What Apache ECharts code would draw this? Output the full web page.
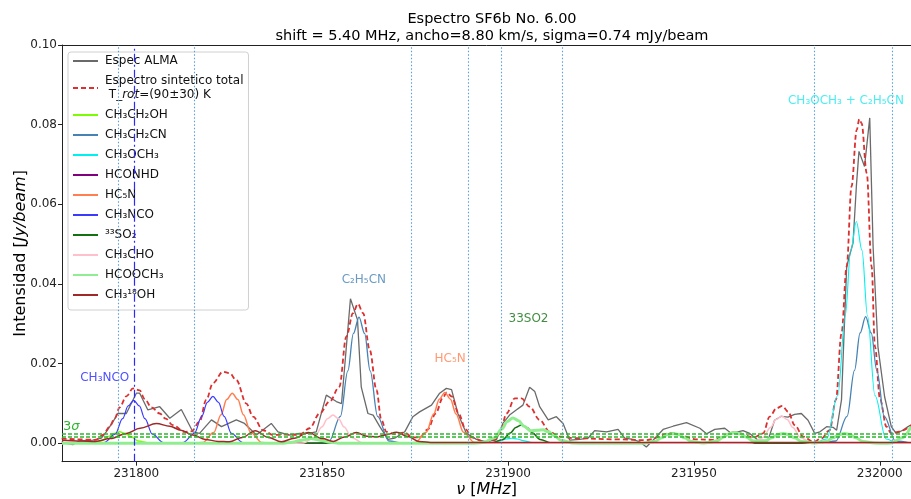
<!DOCTYPE html>
<html>
<head>
<meta charset="utf-8">
<script src="https://cdn.jsdelivr.net/npm/echarts@6/dist/echarts.min.js"></script>
<style>
  html, body { margin: 0; padding: 0; background: #fff; }
  #chart { width: 911px; height: 499px; }
</style>
</head>
<body>
<div id="chart"></div>
<script>
// Frequency window (MHz) and axis ticks
const FREQ_MIN = 231780;
const FREQ_MAX = 232008.4;
const INT_MIN = -0.0046;
const INT_MAX = 0.10;
const xTicks = [231800, 231850, 231900, 231950, 232000];
const yTicks = [0.00, 0.02, 0.04, 0.06, 0.08, 0.10];

// Observed ALMA spectrum [freq MHz, Jy/beam]
const specALMA = [
  [231779.9,0.0004],[231781.2,0.0000],[231782.9,-0.0003],[231784.7,0.0006],[231788.3,0.0008],[231790.6,0.0013],
  [231791.9,0.0029],[231793.7,0.0054],[231795.0,0.0075],[231797.3,0.0075],[231800.0,0.0126],[231800.9,0.0126],
  [231803.1,0.0084],[231806.3,0.0092],[231809.0,0.0063],[231812.1,0.0085],[231815.2,0.0029],[231817.0,0.0025],
  [231820.2,0.0059],[231822.9,0.0042],[231826.9,0.0059],[231829.1,0.0050],[231832.3,0.0021],[231836.3,0.0050],
  [231838.1,0.0029],[231841.2,0.0021],[231843.9,0.0025],[231846.2,0.0025],[231848.4,0.0029],[231851.1,0.0121],
  [231853.8,0.0105],[231855.2,0.0100],[231857.6,0.0363],[231858.6,0.0335],[231859.5,0.0310],[231860.5,0.0142],
  [231862.3,0.0075],[231863.7,0.0071],[231865.5,0.0042],[231867.7,0.0010],[231869.5,0.0013],[231872.2,0.0029],
  [231874.4,0.0067],[231876.2,0.0079],[231879.4,0.0096],[231881.6,0.0126],[231883.4,0.0138],[231884.8,0.0135],
  [231886.5,0.0075],[231888.8,0.0025],[231891.5,0.0010],[231894.2,0.0004],[231896.9,0.0010],[231898.6,0.0050],
  [231900.4,0.0071],[231902.2,0.0084],[231904.0,0.0096],[231905.8,0.0141],[231907.2,0.0130],[231908.5,0.0092],
  [231910.8,0.0059],[231913.0,0.0067],[231914.8,0.0050],[231916.6,0.0008],[231919.3,0.0010],[231921.5,0.0013],
  [231923.3,0.0032],[231926.5,0.0029],[231929.6,0.0035],[231931.4,0.0013],[231933.6,0.0010],[231935.4,0.0004],
  [231937.2,-0.0009],[231939.0,0.0008],[231941.7,0.0035],[231944.4,0.0043],[231948.0,0.0052],[231951.6,0.0038],
  [231953.4,0.0024],[231955.6,0.0035],[231958.3,0.0038],[231960.1,0.0025],[231963.2,0.0032],[231965.0,0.0025],
  [231967.3,0.0008],[231969.9,0.0007],[231971.7,0.0058],[231973.5,0.0068],[231975.3,0.0066],[231977.1,0.0073],
  [231978.9,0.0075],[231980.7,0.0058],[231982.5,0.0025],[231983.9,0.0029],[231985.7,0.0042],[231987.5,0.0040],
  [231988.4,0.0033],[231989.7,0.0109],[231991.1,0.0444],[231991.8,0.0469],[231992.8,0.0503],[231993.7,0.0645],
  [231994.4,0.0733],[231995.9,0.0695],[231997.3,0.0817],[231998.2,0.0494],[231999.5,0.0243],[232001.3,0.0117],
  [232003.1,0.0042],[232004.4,0.0025],[232006.2,0.0033],[232007.6,0.0042],[232008.4,0.0046]
];

// Total synthetic spectrum
const specTotal = [
  [231779.9,0.0012],[231789.2,0.0009],[231791.0,0.0021],[231792.8,0.0042],[231794.2,0.0063],[231795.5,0.0090],
  [231797.3,0.0118],[231799.1,0.0138],[231800.9,0.0133],[231802.2,0.0112],[231804.1,0.0090],[231806.3,0.0075],
  [231807.9,0.0062],[231809.8,0.0046],[231813.0,0.0029],[231814.8,0.0030],[231817.0,0.0054],[231818.8,0.0109],
  [231820.6,0.0151],[231823.3,0.0180],[231825.1,0.0176],[231826.9,0.0159],[231829.6,0.0100],[231831.4,0.0067],
  [231834.1,0.0033],[231836.8,0.0021],[231840.0,0.0022],[231843.9,0.0021],[231846.6,0.0038],[231849.3,0.0075],
  [231852.0,0.0105],[231854.6,0.0142],[231856.5,0.0268],[231858.3,0.0327],[231859.6,0.0350],[231861.0,0.0327],
  [231862.8,0.0234],[231864.6,0.0134],[231865.9,0.0059],[231867.3,0.0029],[231869.5,0.0023],[231872.2,0.0027],
  [231874.3,0.0015],[231876.2,0.0015],[231878.4,0.0035],[231880.5,0.0075],[231882.5,0.0115],[231883.5,0.0128],
  [231884.8,0.0118],[231886.7,0.0075],[231888.6,0.0035],[231890.2,0.0015],[231893.7,0.0004],[231896.4,0.0008],
  [231897.8,0.0025],[231899.6,0.0075],[231901.8,0.0113],[231903.6,0.0113],[231905.8,0.0092],[231908.5,0.0059],
  [231911.2,0.0029],[231913.9,0.0017],[231918.0,0.0013],[231930.0,0.0010],[231937.0,0.0008],[231944.0,0.0026],
  [231951.0,0.0010],[231955.0,0.0009],[231961.0,0.0028],[231966.0,0.0015],[231968.6,0.0025],[231970.4,0.0067],
  [231972.2,0.0088],[231973.8,0.0094],[231975.3,0.0080],[231977.1,0.0046],[231979.4,0.0017],[231982.1,0.0004],
  [231984.3,0.0012],[231986.5,0.0033],[231988.2,0.0109],[231989.7,0.0276],[231991.1,0.0444],[231992.4,0.0645],
  [231993.8,0.0787],[231994.5,0.0814],[231995.1,0.0804],[231996.5,0.0678],[231997.8,0.0444],[231998.7,0.0243],
  [232000.1,0.0109],[232001.8,0.0042],[232003.1,0.0025],[232004.9,0.0029],[232006.3,0.0033],[232008.4,0.0046]
];

// Individual species models
const ch3ch2oh = [
  [231780,0],[231784,0],[231787.5,0.0001],[231790.5,0.0006],[231792.5,0.0017],[231794,0.0025],[231795.5,0.0029],
  [231797,0.0025],[231798.5,0.0017],[231800.5,0.0006],[231803.5,0.0001],[231807,0],[232008.4,0]
];
const ch3ch2cn = [
  [231780,0],[231848,0],[231851.9,0.0006],[231854.9,0.0068],[231856.9,0.0182],[231858.4,0.0276],[231859.9,0.0317],
  [231861.4,0.0276],[231862.9,0.0182],[231864.9,0.0068],[231867.9,0.0006],[231872,0],[231984,0],
  [231988.2,0.0006],[231991.2,0.0068],[231993.2,0.0183],[231994.7,0.0277],[231996.2,0.0318],[231997.7,0.0277],
  [231999.2,0.0183],[232001.2,0.0068],[232004.2,0.0006],[232008.4,0]
];
const ch3och3 = [
  [231780,0],[231890,0],[231893,0],[231896,0.0003],[231898,0.0007],[231899.5,0.0011],[231901,0.0013],
  [231902.5,0.0011],[231904,0.0007],[231906,0.0003],[231909,0],[231982,0],[231985.7,0.0011],[231988.7,0.0120],
  [231990.7,0.0320],[231992.2,0.0485],[231993.7,0.0557],[231995.2,0.0485],[231996.7,0.0320],[231998.7,0.0120],
  [232001.7,0.0011],[232005,0],[232008.4,0]
];
const hconhd = [[231780,0],[232008.4,0]];
const hc5n = [
  [231780,0],[231814,0],[231817.8,0.0002],[231820.8,0.0027],[231822.8,0.0072],[231824.3,0.0110],[231825.8,0.0126],
  [231827.3,0.0110],[231828.8,0.0072],[231830.8,0.0027],[231833.8,0.0002],[231838,0],[231871,0],
  [231875,0.0002],[231878,0.0028],[231880,0.0074],[231881.5,0.0111],[231883,0.0128],[231884.5,0.0111],
  [231886,0.0074],[231888,0.0028],[231891,0.0002],[231895,0],[232008.4,0]
];
const ch3nco = [
  [231780,0],[231787,0],[231791.3,0.0002],[231794.3,0.0023],[231796.3,0.0062],[231797.8,0.0094],[231799.3,0.0108],
  [231800.8,0.0094],[231802.3,0.0062],[231804.3,0.0023],[231807.3,0.0002],[231810,0.0001],[231812.6,0.0002],
  [231815.6,0.0025],[231817.6,0.0068],[231819.1,0.0103],[231820.6,0.0118],[231822.1,0.0103],[231823.6,0.0068],
  [231825.6,0.0025],[231828.6,0.0002],[231832,0],[232008.4,0]
];
const so2_33 = [
  [231780,0],[231892,0],[231895.6,0.0001],[231898.6,0.0010],[231900.6,0.0026],[231902.1,0.0040],[231903.6,0.0046],
  [231905.1,0.0040],[231906.6,0.0026],[231908.6,0.0010],[231911.6,0.0001],[231915,0],[232008.4,0]
];
const ch3cho = [
  [231780,0],[231841,0],[231844.9,0.0001],[231847.9,0.0015],[231849.9,0.0041],[231851.4,0.0062],[231852.9,0.0071],
  [231854.4,0.0062],[231855.9,0.0041],[231857.9,0.0015],[231860.9,0.0001],[231864,0],[231962,0],
  [231965.6,0.0001],[231968.6,0.0015],[231970.6,0.0040],[231972.1,0.0060],[231973.6,0.0069],[231975.1,0.0060],
  [231976.6,0.0040],[231978.6,0.0015],[231981.6,0.0001],[231985,0],[232008.4,0]
];
const hcooch3 = [
  [231780,0],[231836,0],[231839,0],[231842,0.0003],[231844,0.0007],[231845.5,0.0010],[231847,0.0012],
  [231848.5,0.0010],[231850,0.0007],[231852,0.0003],[231855,0],[231890,0],[231893.3,0.0002],[231896.3,0.0014],
  [231898.3,0.0036],[231899.8,0.0055],[231901.3,0.0064],[231902.8,0.0057],[231904.3,0.0043],[231906,0.0032],
  [231907.9,0.0033],[231909.4,0.0034],[231910.9,0.0029],[231912.4,0.0019],[231914.4,0.0007],[231917.4,0.0001],
  [231921,0],[231933,0],[231936.4,0],[231939.4,0.0005],[231941.4,0.0014],[231942.9,0.0022],[231944.4,0.0025],
  [231945.9,0.0022],[231947.4,0.0014],[231949.4,0.0005],[231952.4,0.0001],[231954,0.0002],[231956,0.0006],
  [231958,0.0016],[231959.5,0.0024],[231961,0.0027],[231962.5,0.0024],[231964,0.0016],[231966,0.0006],
  [231969,0.0006],[231971,0.0014],[231972.5,0.0022],[231974,0.0025],[231975.5,0.0022],[231977,0.0014],
  [231979,0.0005],[231982.5,0.0001],[231985.5,0.0005],[231987.5,0.0014],[231989,0.0022],[231990.5,0.0025],
  [231992,0.0022],[231993.5,0.0014],[231995.5,0.0005],[231998.5,0.0001],[232001,0],[232003,0.0001],
  [232006,0.0014],[232008.4,0.0042]
];
const ch3_18oh = [
  [231780,0.0008],[231785,0.0006],[231789,0.0005],[231793,0.0012],[231797.3,0.0025],[231801,0.0038],
  [231805.4,0.0050],[231809,0.0043],[231812,0.0033],[231815.2,0.0021],[231818.5,0.0010],[231822,0.0005],
  [231825,0.0004],[231828.5,0.0015],[231832,0.0032],[231835.5,0.0015],[231839,0.0004],[231842.5,0.0013],
  [231846.3,0.0027],[231850,0.0012],[231853,0.0005],[231856,0.0016],[231859.2,0.0027],[231862,0.0018],
  [231864.6,0.0016],[231867,0.0021],[231870,0.0028],[231873,0.0017],[231876,0.0005],[231880,0.0002],
  [232008.4,0.0002]
];

// Marked transition frequencies and noise level
const lineFreqs = [231795.0, 231815.5, 231874.0, 231889.2, 231898.2, 231914.6, 231982.3, 232003.4];
const ch3ncoFreq = 231799.35;
const sigmaLevels = [0.0023, 0.0016];

// Species annotations
const labelFreqs = [231791.5, 231861.2, 231884.4, 231905.5, 231990.9];
const labelValues = [0.0165, 0.0411, 0.0213, 0.0312, 0.0860];
const labelTexts = ['CH₃NCO', 'C₂H₅CN', 'HC₅N', '33SO2', 'CH₃OCH₃ + C₂H₅CN'];
const labelColors = ['#2323ff', '#4682b4', '#ff7f50', '#137013', '#1ee8ee'];

const FONT = 'DejaVu Sans';
const NAME_TOTAL = 'Espectro sintetico total';

function species(name, data, color, width) {
  return {
    name: name, type: 'line', data: data, color: color,
    symbol: 'none', showSymbol: false,
    smooth: 0.35, smoothMonotone: 'x',
    lineStyle: { color: color, width: width },
    emphasis: { disabled: true }
  };
}

const chart = echarts.init(document.getElementById('chart'), null, { renderer: 'canvas' });

const option = {
  animation: false,
  backgroundColor: '#fff',
  textStyle: { fontFamily: FONT },
  title: {
    text: 'Espectro SF6b No. 6.00\nshift = 5.40 MHz, ancho=8.80 km/s, sigma=0.74 mJy/beam',
    left: 487, top: 6, textAlign: 'center',
    textStyle: { fontFamily: FONT, fontSize: 14.5, fontWeight: 'normal', color: '#000', lineHeight: 17 }
  },
  grid: { left: 62, right: 0, top: 45, bottom: 37.3, containLabel: false, outerBoundsMode: 'none' },
  legend: {
    orient: 'vertical', left: 68, top: 52,
    padding: [2, 5, 8, 4],
    itemWidth: 25, itemHeight: 14, itemGap: 6,
    backgroundColor: 'rgba(255,255,255,0.85)',
    borderColor: '#d0d0d0', borderWidth: 1, borderRadius: 3,
    selectedMode: false,
    itemStyle: { opacity: 0, borderWidth: 0 },
    data: [
      'Espec ALMA', NAME_TOTAL, 'CH₃CH₂OH', 'CH₃CH₂CN', 'CH₃OCH₃', 'HCONHD', 'HC₅N',
      'CH₃NCO', '³³SO₂', 'CH₃CHO', 'HCOOCH₃', 'CH₃¹⁸OH'
    ],
    formatter: function (name) {
      if (name === NAME_TOTAL) return 'Espectro sintetico total\n T_{it|rot}=(90±30) K';
      return name;
    },
    textStyle: {
      fontFamily: FONT, fontSize: 12, color: '#111', lineHeight: 14, padding: [0, 0, 0, 2],
      rich: { it: { fontFamily: FONT, fontSize: 12, fontStyle: 'italic', color: '#111', lineHeight: 14 } }
    }
  },
  xAxis: [{
    type: 'value', min: FREQ_MIN, max: FREQ_MAX,
    name: '{i|ν} [{i|MHz}]', nameLocation: 'middle', nameGap: 20, nameMoveOverlap: false,
    nameTextStyle: {
      fontFamily: FONT, fontSize: 16, color: '#000', verticalAlign: 'top',
      rich: { i: { fontFamily: FONT, fontSize: 16, fontStyle: 'italic', color: '#000' } }
    },
    axisLine: { show: true, onZero: false, lineStyle: { color: '#222', width: 1 } },
    axisTick: { show: true, length: 4, customValues: xTicks, lineStyle: { color: '#222' } },
    axisLabel: { customValues: xTicks, margin: 6, fontFamily: FONT, fontSize: 12, color: '#222',
      formatter: function (v) { return String(v); } },
    splitLine: { show: false }
  }, {
    type: 'value', min: FREQ_MIN, max: FREQ_MAX, position: 'top',
    axisLine: { show: true, onZero: false, lineStyle: { color: '#222', width: 1 } },
    axisTick: { show: false }, axisLabel: { show: false }, splitLine: { show: false }
  }],
  yAxis: {
    type: 'value', min: INT_MIN, max: INT_MAX,
    name: 'Intensidad [{i|Jy/beam}]', nameLocation: 'middle', nameGap: 33, nameMoveOverlap: false,
    nameTextStyle: {
      fontFamily: FONT, fontSize: 16, color: '#000',
      rich: { i: { fontFamily: FONT, fontSize: 16, fontStyle: 'italic', color: '#000' } }
    },
    axisLine: { show: true, onZero: false, lineStyle: { color: '#222', width: 1 } },
    axisTick: { show: true, length: 4, customValues: yTicks, lineStyle: { color: '#222' } },
    axisLabel: { customValues: yTicks, margin: 5, fontFamily: FONT, fontSize: 12, color: '#222',
      formatter: function (v) { return v.toFixed(2); } },
    splitLine: { show: false }
  },
  series: [
    {
      name: 'Espec ALMA', type: 'line', data: specALMA, color: '#6a6a6a',
      symbol: 'none', showSymbol: false,
      lineStyle: { color: '#6a6a6a', width: 1.3 },
      emphasis: { disabled: true },
      markLine: {
        silent: true, symbol: ['none', 'none'], animation: false, precision: 6,
        label: { show: false },
        data: lineFreqs.map(function (f) {
          return { xAxis: f, lineStyle: { color: '#5b9fd6', width: 1.1, type: [1.5, 2] } };
        }).concat([{ xAxis: ch3ncoFreq, lineStyle: { color: '#2a2aff', width: 1.2, type: [8, 3, 2, 3] } }])
      }
    },
    {
      name: NAME_TOTAL, type: 'line', data: specTotal, color: '#dc2f2f',
      symbol: 'none', showSymbol: false, smooth: 0.35, smoothMonotone: 'x',
      lineStyle: { color: '#dc2f2f', width: 1.8, type: [5, 3] },
      emphasis: { disabled: true },
      markLine: {
        silent: true, symbol: ['none', 'none'], animation: false, precision: 6,
        lineStyle: { color: '#2fb52f', width: 1.5, type: [4, 2] },
        data: [
          { yAxis: sigmaLevels[0], label: { show: true, formatter: '3{s|σ}', position: 'insideStartTop',
            distance: [1, 1], color: '#2fb52f', fontFamily: FONT, fontSize: 13,
            rich: { s: { fontFamily: FONT, fontSize: 13, fontStyle: 'italic', color: '#2fb52f' } } } },
          { yAxis: sigmaLevels[1], label: { show: false } }
        ]
      }
    },
    species('CH₃CH₂OH', ch3ch2oh, '#7cfc00', 1.5),
    species('CH₃CH₂CN', ch3ch2cn, '#4682b4', 1.3),
    species('CH₃OCH₃', ch3och3, '#00f0f0', 1.1),
    species('HCONHD', hconhd, '#800080', 1.5),
    species('HC₅N', hc5n, '#ff7f50', 1.5),
    species('CH₃NCO', ch3nco, '#3b3bff', 1.2),
    species('³³SO₂', so2_33, '#137013', 1.5),
    species('CH₃CHO', ch3cho, '#ffc0cb', 1.5),
    species('HCOOCH₃', hcooch3, '#90ee90', 3),
    species('CH₃¹⁸OH', ch3_18oh, '#a02828', 1.5),
    {
      name: 'labels', type: 'scatter', symbolSize: 0, silent: true,
      data: labelFreqs.map(function (f, i) {
        return {
          value: [f, labelValues[i]],
          label: { show: true, position: 'inside', formatter: labelTexts[i],
            color: labelColors[i], fontFamily: FONT, fontSize: 12 }
        };
      })
    }
  ]
};

chart.setOption(option);
</script>
</body>
</html>
